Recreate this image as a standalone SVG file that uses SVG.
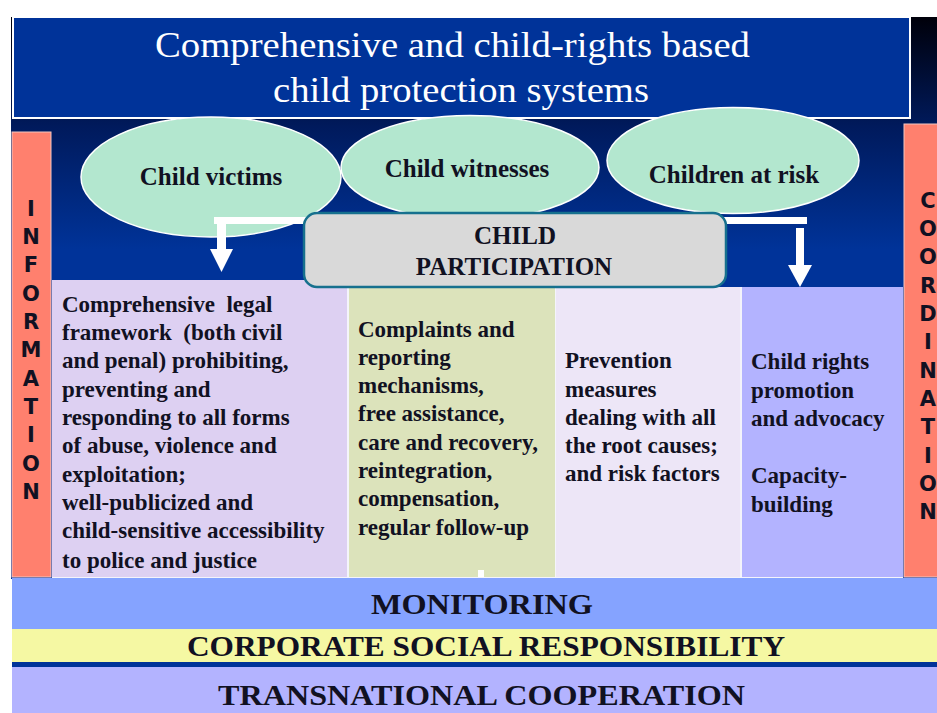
<svg xmlns="http://www.w3.org/2000/svg" width="937" height="713" viewBox="0 0 937 713">
<defs>
<linearGradient id="bg" gradientUnits="userSpaceOnUse" x1="0" y1="17" x2="0" y2="290">
<stop offset="0" stop-color="#00000a"/>
<stop offset="0.4" stop-color="#001a5c"/>
<stop offset="0.85" stop-color="#003399"/>
<stop offset="1" stop-color="#003399"/>
</linearGradient>
<style>
.ell{fill:#b3e7cf;stroke:#ffffff;stroke-width:1.5}
.lbl{font-family:'Liberation Serif',serif;font-weight:bold;fill:#111122}
.ell-t{font-size:25px;text-anchor:middle}
.body{font-size:23px;white-space:pre}
.band{font-size:30px}
.side{font-family:'DejaVu Sans',sans-serif;font-weight:bold;font-size:21px;fill:#111122;text-anchor:middle}
.arrow{fill:#ffffff}
</style>
</defs>
<rect x="0" y="0" width="937" height="713" fill="#ffffff"/>
<rect x="11" y="17" width="926" height="562" fill="url(#bg)"/>
<rect x="52" y="287" width="851" height="291" fill="#f4f4fb"/>

<g id="title">
<rect x="13" y="17" width="897" height="101" fill="#003399" stroke="#ffffff" stroke-width="2"/>
<text x="155" y="57" font-family="Liberation Serif, serif" font-size="36" fill="#ffffff" textLength="595" lengthAdjust="spacingAndGlyphs">Comprehensive and child-rights based</text>
<text x="273" y="102" font-family="Liberation Serif, serif" font-size="36" fill="#ffffff" textLength="376" lengthAdjust="spacingAndGlyphs">child protection systems</text>
</g>

<g id="col-legal">
<rect x="52" y="280" width="295" height="297" fill="#ddd0f2"/>
<text class="lbl body" xml:space="preserve"><tspan x="62" y="312">Comprehensive  legal</tspan><tspan x="62" y="340">framework  (both civil</tspan><tspan x="62" y="368">and penal) prohibiting,</tspan><tspan x="62" y="397">preventing and</tspan><tspan x="62" y="425">responding to all forms</tspan><tspan x="62" y="453">of abuse, violence and</tspan><tspan x="62" y="482">exploitation;</tspan><tspan x="62" y="510">well-publicized and</tspan><tspan x="62" y="538">child-sensitive accessibility</tspan><tspan x="62" y="568">to police and justice</tspan></text>
</g>

<g id="col-complaints">
<rect x="349" y="287" width="206" height="290" fill="#dce3bb"/>
<rect x="478" y="570" width="6" height="7" fill="#ffffff"/>
<text class="lbl body"><tspan x="358" y="337">Complaints and</tspan><tspan x="358" y="365">reporting</tspan><tspan x="358" y="393">mechanisms,</tspan><tspan x="358" y="421">free assistance,</tspan><tspan x="358" y="450">care and recovery,</tspan><tspan x="358" y="478">reintegration,</tspan><tspan x="358" y="506">compensation,</tspan><tspan x="358" y="535">regular follow-up</tspan></text>
</g>

<g id="col-prevention">
<rect x="556" y="287" width="184" height="290" fill="#ede6f7"/>
<text class="lbl body"><tspan x="565" y="368">Prevention</tspan><tspan x="565" y="397">measures</tspan><tspan x="565" y="425">dealing with all</tspan><tspan x="565" y="453">the root causes;</tspan><tspan x="565" y="481">and risk factors</tspan></text>
</g>

<g id="col-promotion">
<rect x="742" y="287" width="161" height="290" fill="#b3b3ff"/>
<text class="lbl body"><tspan x="751" y="369">Child rights</tspan><tspan x="751" y="398">promotion</tspan><tspan x="751" y="426">and advocacy</tspan><tspan x="751" y="483">Capacity-</tspan><tspan x="751" y="512">building</tspan></text>
</g>

<g id="information">
<rect x="12" y="132" width="39" height="445" fill="#ff806e" stroke="#f4c6c0" stroke-width="1"/>
<text class="side"><tspan x="31" y="216">I</tspan><tspan x="31" y="244">N</tspan><tspan x="31" y="272">F</tspan><tspan x="31" y="301">O</tspan><tspan x="31" y="329">R</tspan><tspan x="31" y="357">M</tspan><tspan x="31" y="386">A</tspan><tspan x="31" y="414">T</tspan><tspan x="31" y="442">I</tspan><tspan x="31" y="471">O</tspan><tspan x="31" y="499">N</tspan></text>
</g>

<g id="coordination">
<rect x="904" y="124" width="34" height="453" fill="#ff806e" stroke="#f4c6c0" stroke-width="1"/>
<text class="side"><tspan x="928" y="208">C</tspan><tspan x="928" y="236">O</tspan><tspan x="928" y="264">O</tspan><tspan x="928" y="293">R</tspan><tspan x="928" y="321">D</tspan><tspan x="928" y="349">I</tspan><tspan x="928" y="378">N</tspan><tspan x="928" y="406">A</tspan><tspan x="928" y="434">T</tspan><tspan x="928" y="463">I</tspan><tspan x="928" y="491">O</tspan><tspan x="928" y="519">N</tspan></text>
</g>

<g id="child-victims">
<ellipse class="ell" cx="211" cy="177" rx="130" ry="60"/>
<text class="lbl ell-t" x="211" y="185">Child victims</text>
</g>
<g id="child-witnesses">
<ellipse class="ell" cx="470" cy="167.5" rx="129" ry="52"/>
<text class="lbl ell-t" x="467" y="177">Child witnesses</text>
</g>
<g id="children-at-risk">
<ellipse class="ell" cx="733" cy="160.5" rx="126" ry="53"/>
<text class="lbl ell-t" x="734" y="183">Children at risk</text>
</g>

<g id="connectors">
<rect class="arrow" x="214" y="217" width="92" height="7"/>
<rect class="arrow" x="217" y="222" width="9" height="28"/>
<polygon class="arrow" points="210,249 233,249 221.5,272"/>
<rect class="arrow" x="722" y="217" width="85" height="7"/>
<rect class="arrow" x="796" y="228" width="8" height="38"/>
<polygon class="arrow" points="788,265 812,265 800,287"/>
</g>

<g id="child-participation">
<rect x="304" y="213" width="422" height="74" rx="13" ry="13" fill="#d9d9d9" stroke="#16708e" stroke-width="2.5"/>
<text class="lbl" font-size="25" text-anchor="middle" x="515" y="244">CHILD</text>
<text class="lbl" font-size="25" text-anchor="middle" x="514" y="275">PARTICIPATION</text>
</g>

<g id="monitoring">
<rect x="12" y="578" width="925" height="51" fill="#85a3ff"/>
<text class="lbl band" x="371" y="614" textLength="222" lengthAdjust="spacingAndGlyphs">MONITORING</text>
</g>
<g id="csr">
<rect x="12" y="629" width="925" height="33" fill="#f5f8a3"/>
<text class="lbl band" x="187" y="656" textLength="598" lengthAdjust="spacingAndGlyphs">CORPORATE SOCIAL RESPONSIBILITY</text>
</g>
<rect x="12" y="662" width="925" height="5" fill="#003399"/>
<g id="transnational">
<rect x="12" y="667" width="925" height="46" fill="#b3b3ff"/>
<text class="lbl band" x="218" y="705" textLength="527" lengthAdjust="spacingAndGlyphs">TRANSNATIONAL COOPERATION</text>
</g>
</svg>
